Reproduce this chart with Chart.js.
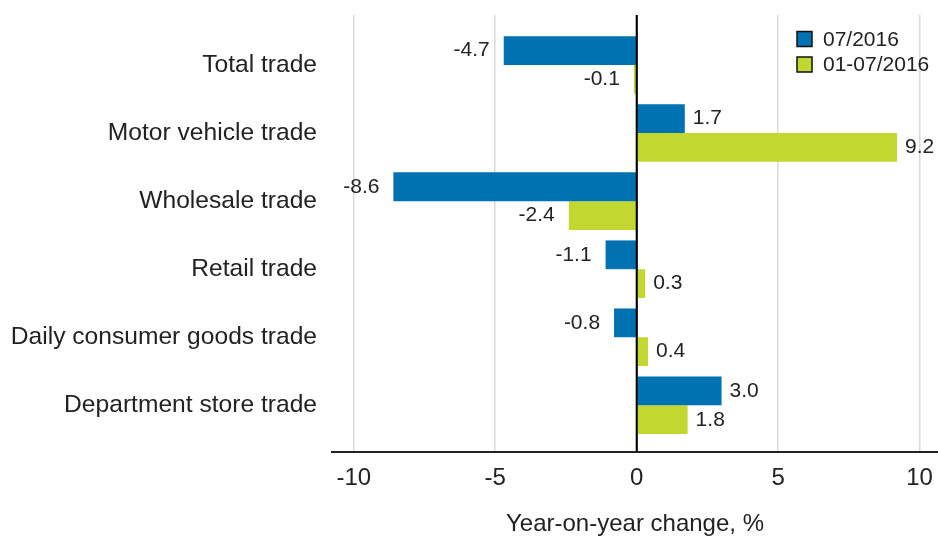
<!DOCTYPE html>
<html lang="en">
<head>
  <meta charset="UTF-8"/>
  <title>Trade - year-on-year change</title>
  <script src="https://cdn.jsdelivr.net/npm/chart.js"></script>
  <style>
    body { margin: 0; background: #fff; }
    .chart-wrap { width: 938px; height: 539px; position: relative; }
  </style>
</head>
<body>
<div class="chart-wrap"><canvas id="tradeChart"></canvas></div>

<script>
  // data
  const categories = ['Total trade', 'Motor vehicle trade', 'Wholesale trade', 'Retail trade',
                      'Daily consumer goods trade', 'Department store trade'];
  const seriesLabels = ['07/2016', '01-07/2016'];
  const july2016 = [-4.7, 1.7, -8.6, -1.1, -0.8, 3.0];
  const janJuly2016 = [-0.1, 9.2, -2.4, 0.3, 0.4, 1.8];
  const xTicks = [-10, -5, 0, 5, 10];

  const colors = ['#0071b1', '#c2d72f'];
  const textColor = '#222';
  const fontFamily = '"Liberation Sans", Arial, sans-serif';

  // value labels next to the bar ends
  const valueLabels = {
    id: 'valueLabels',
    afterDatasetsDraw(chart) {
      const ctx = chart.ctx;
      ctx.save();
      ctx.font = '21px ' + fontFamily;
      ctx.fillStyle = textColor;
      ctx.textBaseline = 'middle';
      chart.data.datasets.forEach((ds, i) => {
        chart.getDatasetMeta(i).data.forEach((bar, j) => {
          const v = ds.data[j].x;
          if (v >= 0) {
            ctx.textAlign = 'left';
            ctx.fillText(v.toFixed(1), bar.x + 8, bar.y);
          } else {
            ctx.textAlign = 'right';
            ctx.fillText(v.toFixed(1), bar.x - 14, bar.y);
          }
        });
      });
      // zero line sits on top of the bars
      const x0 = chart.scales.x.getPixelForValue(0);
      ctx.strokeStyle = '#000';
      ctx.lineWidth = 2;
      ctx.beginPath();
      ctx.moveTo(x0, chart.chartArea.top);
      ctx.lineTo(x0, chart.chartArea.bottom);
      ctx.stroke();
      ctx.restore();
    }
  };

  // legend in the top right corner of the plot
  const cornerLegend = {
    id: 'cornerLegend',
    afterDraw(chart) {
      const ctx = chart.ctx;
      const area = chart.chartArea;
      ctx.save();
      ctx.font = '21px ' + fontFamily;
      ctx.textBaseline = 'middle';
      ctx.textAlign = 'left';
      chart.data.datasets.forEach((ds, i) => {
        const y = area.top + 24 + i * 25.5;
        const bx = area.right - 141;
        ctx.fillStyle = ds.backgroundColor;
        ctx.fillRect(bx, y - 7.5, 15, 15);
        ctx.strokeStyle = '#111';
        ctx.lineWidth = 1.5;
        ctx.strokeRect(bx, y - 7.5, 15, 15);
        ctx.fillStyle = textColor;
        ctx.fillText(ds.label, area.right - 115, y + 1);
      });
      ctx.restore();
    }
  };

  new Chart(document.getElementById('tradeChart'), {
    type: 'bar',
    data: {
      datasets: [
        { label: seriesLabels[0], data: july2016.map((v, i) => ({ x: v, y: i })), backgroundColor: colors[0] },
        { label: seriesLabels[1], data: janJuly2016.map((v, i) => ({ x: v, y: i })), backgroundColor: colors[1] }
      ]
    },
    options: {
      indexAxis: 'y',
      responsive: true,
      maintainAspectRatio: false,
      animation: false,
      categoryPercentage: 0.846,
      barPercentage: 1,
      layout: { padding: { top: 15, left: 0, right: 0, bottom: 0 } },
      plugins: {
        legend: { display: false },
        tooltip: { enabled: false }
      },
      scales: {
        x: {
          type: 'linear',
          min: -10.77,
          max: 10.65,
          afterBuildTicks: s => { s.ticks = xTicks.map(v => ({ value: v })); },
          afterFit: s => { s.height = 87; s.paddingLeft = 0; s.paddingRight = 0; },
          ticks: {
            color: textColor,
            font: { family: fontFamily, size: 24 },
            padding: 12,
            maxRotation: 0
          },
          grid: {
            color: c => (c.tick && c.tick.value === 0) ? '#000' : '#d9d9d9',
            lineWidth: 1.5,
            drawTicks: false
          },
          border: { display: true, color: '#222', width: 2 },
          title: {
            display: true,
            text: 'Year-on-year change, %',
            color: textColor,
            font: { family: fontFamily, size: 24, lineHeight: 1.2 },
            padding: { top: 0, bottom: 0 }
          }
        },
        y: {
          type: 'linear',
          reverse: true,
          offset: false,
          min: -0.735,
          max: 5.686,
          afterBuildTicks: s => { s.ticks = categories.map((c, i) => ({ value: i })); },
          afterFit: s => { s.width = 332; s.paddingTop = 0; s.paddingBottom = 0; },
          ticks: {
            autoSkip: false,
            color: textColor,
            font: { family: fontFamily, size: 24.6 },
            padding: 15,
            callback: v => categories[v]
          },
          grid: { display: false, drawTicks: false, tickLength: 0, offset: false },
          border: { display: false }
        }
      }
    },
    plugins: [valueLabels, cornerLegend]
  });
</script>
</body>
</html>
